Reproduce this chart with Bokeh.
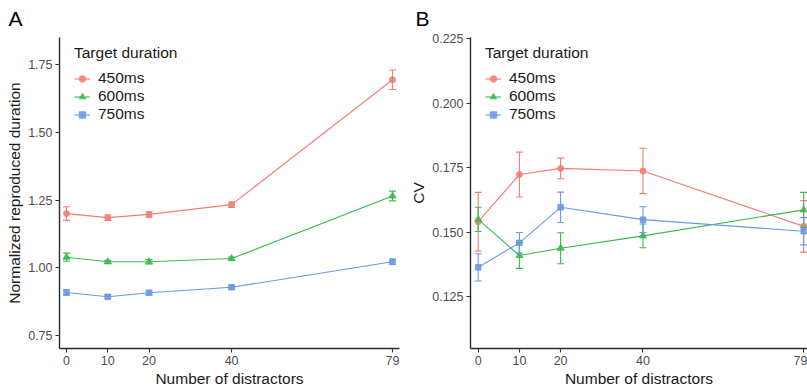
from bokeh.plotting import figure
from bokeh.models import (ColumnDataSource, Whisker, TeeHead, FixedTicker, Range1d,
                          Legend, LegendItem, Title, NumeralTickFormatter)
from bokeh.layouts import row
from bokeh.embed import file_html
from bokeh.resources import INLINE

# ---------------- data ----------------
distractors = [0, 10, 20, 40, 79]
x_ticks = [0, 10, 20, 40, 79]
target_labels = ["450ms", "600ms", "750ms"]

# Panel A: normalized reproduced duration (mean, SE)
norm_450 = [1.200, 1.185, 1.197, 1.233, 1.694]
norm_450_err = [0.025, 0.010, 0.010, 0.010, 0.036]
norm_600 = [1.039, 1.022, 1.022, 1.034, 1.265]
norm_600_err = [0.015, 0.006, 0.008, 0.006, 0.018]
norm_750 = [0.909, 0.893, 0.908, 0.928, 1.022]
norm_750_err = [0.010, 0.007, 0.007, 0.006, 0.010]
a_y_ticks = [0.75, 1.00, 1.25, 1.50, 1.75]

# Panel B: CV (mean, SE)
cv_450 = [0.1540, 0.1723, 0.1747, 0.1737, 0.1522]
cv_450_err = [0.0114, 0.0087, 0.0040, 0.0088, 0.0100]
cv_600 = [0.1549, 0.1409, 0.1437, 0.1485, 0.1586]
cv_600_err = [0.0047, 0.0050, 0.0060, 0.0046, 0.0068]
cv_750 = [0.1363, 0.1458, 0.1596, 0.1548, 0.1503]
cv_750_err = [0.0053, 0.0040, 0.0059, 0.0050, 0.0053]
b_y_ticks = [0.125, 0.150, 0.175, 0.200, 0.225]

# ---------------- styles ----------------
colors = ["#F47C76", "#3EB84C", "#6A98E6"]
markers = ["circle", "triangle", "square"]
marker_sizes = [6, 7, 5.5]
FONT = "Liberation Sans"
H = 389
TOP = 37
BOTTOM = 41


def make_panel(letter, width, left, right, xr, yr, yticks, yfmt, ylabel, series, title_offset):
    p = figure(width=width, height=H, output_backend="svg", toolbar_location=None,
               x_range=Range1d(*xr), y_range=Range1d(*yr),
               min_border_left=left, min_border_right=right,
               min_border_top=TOP, min_border_bottom=BOTTOM)
    p.outline_line_color = None
    p.grid.visible = False
    p.background_fill_color = "white"
    p.border_fill_color = "white"

    p.title = Title(text=letter, align="left", offset=title_offset, standoff=12,
                    vertical_align="top",
                    text_font=FONT, text_font_size="21px", text_font_style="normal",
                    text_color="black")

    for ax in (p.xaxis, p.yaxis):
        ax.axis_line_color = "#2b2b2b"
        ax.axis_line_width = 1.4
        ax.major_tick_line_color = "#333333"
        ax.major_tick_line_width = 1.1
        ax.major_tick_out = 4
        ax.major_tick_in = 0
        ax.minor_tick_line_color = None
        ax.major_label_text_font = FONT
        ax.major_label_text_font_size = "12.5px"
        ax.major_label_text_color = "#4D4D4D"
        ax.major_label_standoff = 3
        ax.axis_label_text_font = FONT
        ax.axis_label_text_font_size = "15.5px"
        ax.axis_label_text_font_style = "normal"
        ax.axis_label_text_color = "#1a1a1a"
        ax.axis_label_standoff = 2
    p.xaxis.ticker = FixedTicker(ticks=x_ticks)
    p.yaxis.ticker = FixedTicker(ticks=yticks)
    p.yaxis.formatter = NumeralTickFormatter(format=yfmt)
    p.xaxis.axis_label = "Number of distractors"
    p.yaxis.axis_label = ylabel

    items = []
    for (vals, errs), c, m, ms, lab in zip(series, colors, markers, marker_sizes, target_labels):
        src = ColumnDataSource(dict(x=distractors, y=vals,
                                    upper=[v + e for v, e in zip(vals, errs)],
                                    lower=[v - e for v, e in zip(vals, errs)]))
        w = Whisker(source=src, base="x", upper="upper", lower="lower",
                    line_color=c, line_width=1.1, level="glyph",
                    upper_head=TeeHead(size=7, line_color=c, line_width=1.1),
                    lower_head=TeeHead(size=7, line_color=c, line_width=1.1))
        p.add_layout(w)
        lr = p.line("x", "y", source=src, line_color=c, line_width=1.1)
        sr = p.scatter("x", "y", source=src, marker=m, size=ms,
                       fill_color=c, line_color=c, fill_alpha=0.85, line_alpha=0.85)
        items.append(LegendItem(label=lab, renderers=[lr, sr]))

    leg = Legend(items=items, title="Target duration", location=(15, 225),
                 margin=0, padding=0, spacing=0, label_height=17, glyph_height=17,
                 glyph_width=16, label_standoff=8, title_standoff=7,
                 border_line_color=None, background_fill_alpha=0,
                 label_text_font=FONT, label_text_font_size="15.5px",
                 label_text_color="#1a1a1a",
                 title_text_font=FONT, title_text_font_size="15.5px",
                 title_text_font_style="normal", title_text_color="#1a1a1a")
    p.add_layout(leg, "center")
    return p


pa = make_panel("A", 404, 59, 5, (-1.70, 80.69), (0.702, 1.85), a_y_ticks, "0.00",
                "Normalized reproduced duration",
                [(norm_450, norm_450_err), (norm_600, norm_600_err), (norm_750, norm_750_err)],
                -51)
pb = make_panel("B", 403, 66, 0, (-1.87, 79.93), (0.1048, 0.2255), b_y_ticks, "0.000",
                "CV",
                [(cv_450, cv_450_err), (cv_600, cv_600_err), (cv_750, cv_750_err)],
                -55)

layout = row(pa, pb)
open("out.html", "w").write(file_html(layout, INLINE))
